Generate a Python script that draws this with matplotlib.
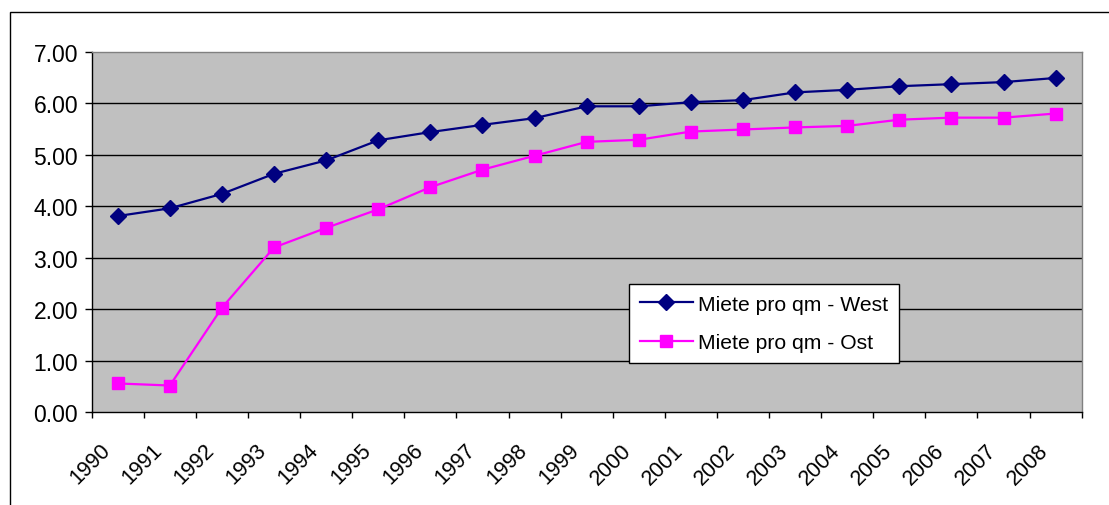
import matplotlib
matplotlib.use("Agg")
import matplotlib.pyplot as plt
import matplotlib.transforms as mtransforms
from matplotlib.patches import Rectangle

plt.rcParams['font.family'] = ['Liberation Sans', 'DejaVu Sans']

years = [str(y) for y in range(1990, 2009)]
west = [3.81, 3.96, 4.24, 4.63, 4.89, 5.28, 5.44, 5.58, 5.71, 5.94,
        5.94, 6.02, 6.06, 6.21, 6.26, 6.33, 6.37, 6.41, 6.49]
ost = [0.56, 0.52, 2.03, 3.20, 3.58, 3.94, 4.37, 4.71, 4.98, 5.25,
       5.29, 5.45, 5.49, 5.53, 5.56, 5.68, 5.72, 5.72, 5.80]
y_ticks = [0, 1, 2, 3, 4, 5, 6, 7]

W, H = 1109, 506
fig = plt.figure(figsize=(W / 100, H / 100), dpi=100)
fig.patch.set_facecolor('white')

# outer chart border (runs off the right and bottom edge)
fig.add_artist(Rectangle((10 / W, -0.1), 1.2, 1 - 13 / H + 0.1,
                         transform=fig.transFigure, fill=False,
                         edgecolor='black', linewidth=1.0))

ax = fig.add_axes([91.7 / W, 1 - 413.3 / H, (1081.7 - 91.7) / W, (413.3 - 52.7) / H])
ax.set_facecolor('#C0C0C0')

x = list(range(len(years)))
ax.plot(x, west, color='#000080', linewidth=1.6, marker='D', markersize=8.5,
        label='Miete pro qm - West', zorder=3)
ax.plot(x, ost, color='#FF00FF', linewidth=1.6, marker='s', markersize=8,
        label='Miete pro qm - Ost', zorder=3)

ax.set_xlim(-0.5, len(years) - 0.5)
ax.set_ylim(0, 7)

for v in y_ticks[1:-1]:
    ax.axhline(v, color='black', linewidth=1.0, zorder=1)

ax.set_yticks(y_ticks)
ax.set_yticklabels(['%.2f' % v for v in y_ticks], fontsize=16.5)
ax.tick_params(axis='y', direction='out', length=4.8, width=1, pad=5, colors='black')

ax.set_xticks(x)
ax.set_xticklabels(years, fontsize=15.5, rotation=45, ha='right', va='top',
                   rotation_mode='anchor')
ax.set_xticks([i - 0.5 for i in range(len(years) + 1)], minor=True)
ax.tick_params(axis='x', which='major', length=0, pad=0)
ax.tick_params(axis='x', which='minor', direction='out', length=4.5, width=1)
offset = mtransforms.ScaledTranslation(-18 / 100, -27 / 100, fig.dpi_scale_trans)
for lab in ax.get_xticklabels():
    lab.set_transform(lab.get_transform() + offset)

ax.spines['left'].set_color('black')
ax.spines['bottom'].set_color('black')
ax.spines['top'].set_color('#808080')
ax.spines['right'].set_color('#808080')
for s in ax.spines.values():
    s.set_linewidth(1.0)

leg = ax.legend(loc='upper left', bbox_to_anchor=(629.3 / W, 1 - 285 / H),
                bbox_transform=fig.transFigure, borderaxespad=0,
                fontsize=15.2, frameon=True, fancybox=False, shadow=False,
                handlelength=2.5, handletextpad=0.25, labelspacing=0.92,
                borderpad=0.5)
leg.get_frame().set_edgecolor('black')
leg.get_frame().set_linewidth(1.0)
leg.get_frame().set_facecolor('white')
leg.get_frame().set_alpha(1)

fig.savefig('out.png', dpi=100)
